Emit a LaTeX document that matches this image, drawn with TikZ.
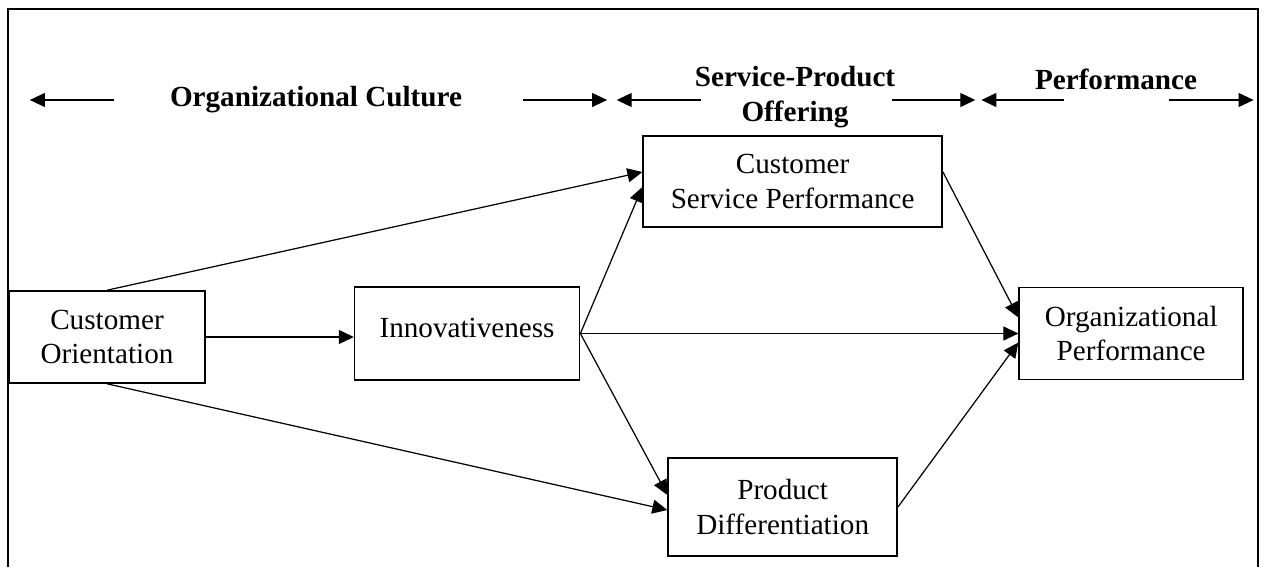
\documentclass[tikz,border=0pt]{standalone}
\usepackage{fontspec}
\setmainfont{Liberation Serif}
\usetikzlibrary{positioning,arrows.meta}
\begin{document}
\begin{tikzpicture}[line width=0.7pt,>={Triangle[length=0.3cm,width=0.28cm]},
  box/.style={draw,line width=0.9pt,align=center,inner sep=0pt,font=\fontsize{16.6}{19.4}\selectfont},
  hd/.style={inner sep=0pt,align=center,font=\fontsize{16.6}{19.9}\selectfont\bfseries}]
  \useasboundingbox (0,0) rectangle (25.28,-11.34);
  % Frame
  \draw[line width=0.8pt] (0.16,-11.34) |- (25.16,-0.18) -- (25.16,-11.34);
  % Boxes
  \node[box,minimum width=3.92cm,minimum height=1.84cm] (co) at (2.14,-6.74) {Customer\\Orientation};
  \node[box,minimum width=4.50cm,minimum height=1.86cm,text depth=0.24cm] (inn) [right=2.96cm of co,yshift=0.07cm] {Innovativeness};
  \node[box,minimum width=5.98cm,minimum height=1.82cm] (csp) [right=1.24cm of inn,yshift=3.04cm] {Customer\\Service Performance};
  \node[box,minimum width=4.58cm,minimum height=1.96cm] (pd) [right=1.74cm of inn,yshift=-3.47cm] {Product\\Differentiation};
  \node[box,minimum width=4.48cm,minimum height=1.84cm] (op) [right=8.76cm of inn] {Organizational\\Performance};
  % Header
  \node[hd] (cult) at (6.32,-2.0) {Organizational Culture};
  \node[hd] (spo) at (15.90,-1.95) {Service-Product\\Offering};
  \node[hd] (perf) at (22.32,-1.58) {Performance};
  % Header arrows
  \draw[->] ([xshift=-1.11cm]cult.west) -- ++(-1.68,0);
  \draw[->] ([xshift=1.21cm]cult.east) -- ++(1.68,0);
  \draw[->] ([xshift=0.13cm,yshift=-0.05cm]spo.west) -- ++(-1.68,0);
  \draw[->] ([xshift=-0.07cm,yshift=-0.05cm]spo.east) -- ++(1.66,0);
  \draw[->] ([xshift=0.60cm,yshift=-0.42cm]perf.west) -- ++(-1.66,0);
  \draw[->] ([xshift=-0.58cm,yshift=-0.42cm]perf.east) -- ++(1.70,0);
  % Links
  \draw[->] (co.north) -- ([yshift=0.19cm]csp.west);
  \draw[->] (co.east) -- (co.east -| inn.west);
  \draw[->] (co.south) -- ([yshift=-0.06cm]pd.west);
  \draw[->] (inn.east) -- ([yshift=-0.11cm]csp.west);
  \draw[->] (inn.east) -- (op.west);
  \draw[->] (inn.east) -- ([yshift=0.24cm]pd.west);
  \draw[->] ([yshift=0.19cm]csp.east) -- ([yshift=0.32cm]op.west);
  \draw[->] (pd.east) -- ([yshift=-0.18cm]op.west);
\end{tikzpicture}
\end{document}
